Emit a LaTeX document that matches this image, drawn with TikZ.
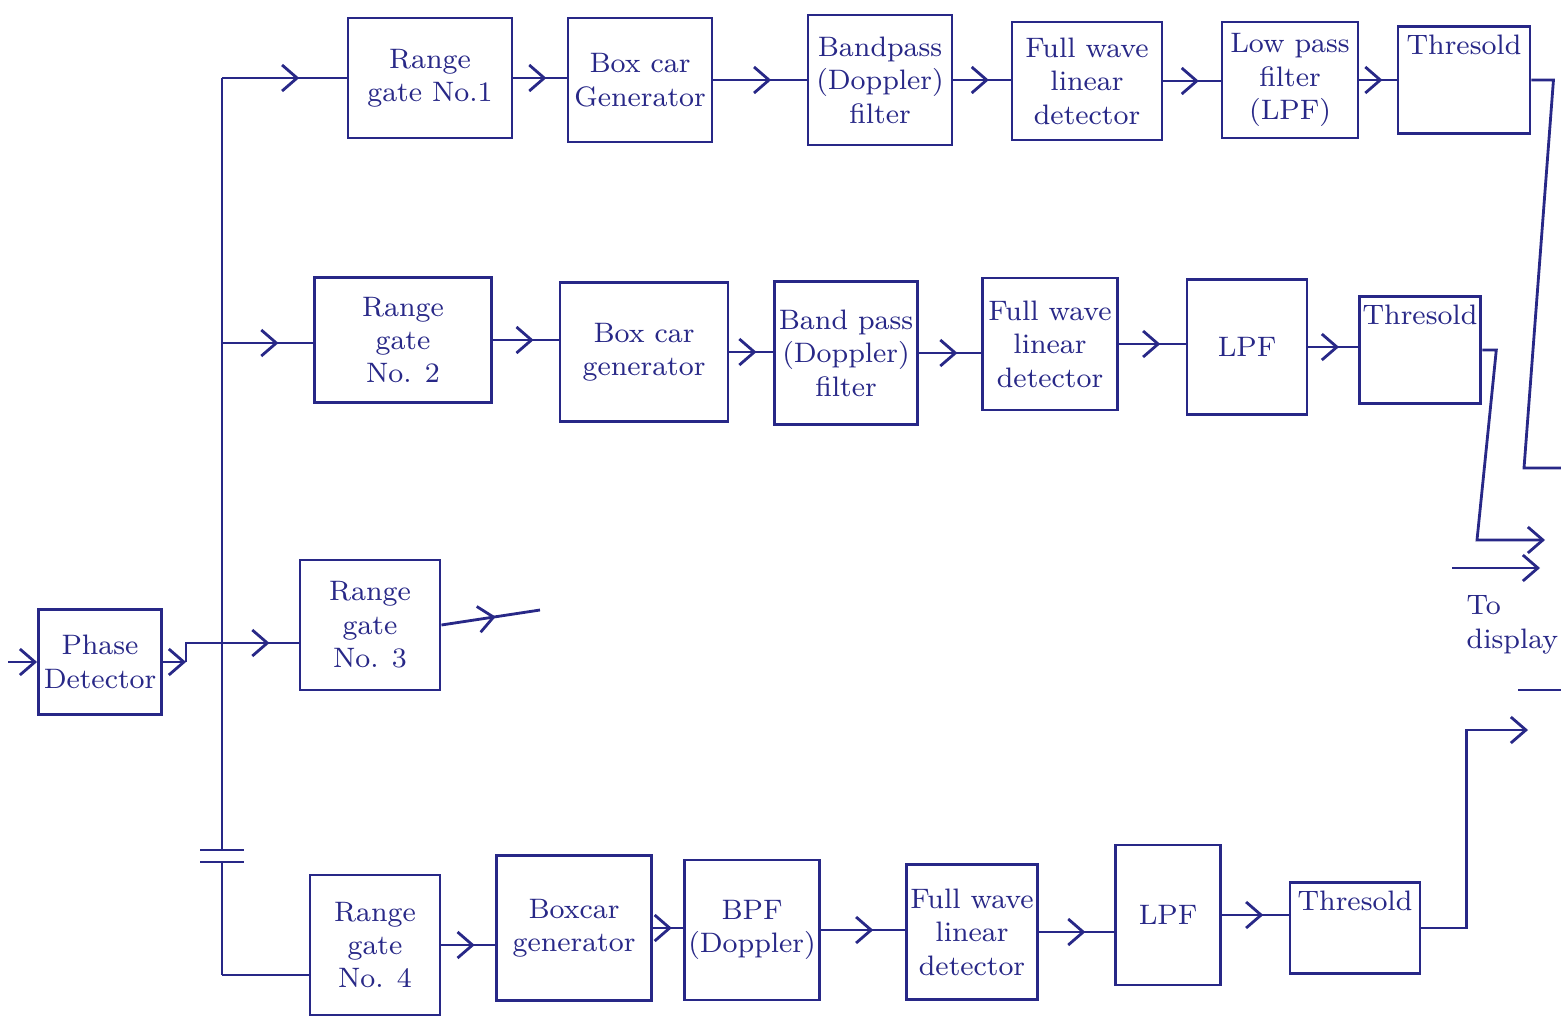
\documentclass[tikz,border=0pt]{standalone}
\usepackage{amsmath}
\usepackage{tikz}
\usetikzlibrary{arrows.meta, positioning, calc, decorations.markings}
\definecolor{ink}{RGB}{40,40,135}

\begin{document}
\begin{tikzpicture}[x=0.01cm, y=-0.01cm, >={Straight Barb[length=1.5mm, width=2.6mm]},
    blk/.style={draw=ink, thick, text=ink, font=\footnotesize, align=center, inner sep=1pt},
    wire/.style={draw=ink, thick},
    midarr/.style={draw=ink, thick, postaction={decorate},
        decoration={markings, mark=at position #1 with {\arrow{>}}}},
    midarr/.default=0.62,
    tophead/.style={text height=1.6ex, text depth=#1}]
    \useasboundingbox (0,0) rectangle (1561,1027);

    % first channel
    \node[blk, minimum width=1.64cm, minimum height=1.2cm] (rg1) at (430,78) {Range\\gate No.1};
    \node[blk, minimum width=1.44cm, minimum height=1.24cm] (bc1) at (640,80) {Box car\\Generator};
    \node[blk, minimum width=1.44cm, minimum height=1.3cm] (bp1) at (880,80) {Bandpass\\(Doppler)\\filter};
    \node[blk, minimum width=1.5cm, minimum height=1.18cm] (fw1) at (1087,81) {Full wave\\linear\\detector};
    \node[blk, minimum width=1.36cm, minimum height=1.16cm] (lp1) at (1290,80) {Low pass\\filter\\(LPF)};
    \node[blk, minimum width=1.32cm, tophead=0.75cm] (th1) at (1464,80) {Thresold};

    % second channel
    \node[blk, minimum width=1.77cm, minimum height=1.25cm] (rg2) at (403,340) {Range\\gate\\No. 2};
    \node[blk, minimum width=1.68cm, minimum height=1.39cm] (bc2) at (644,352) {Box car\\generator};
    \node[blk, minimum width=1.43cm, minimum height=1.43cm] (bp2) at (846,353) {Band pass\\(Doppler)\\filter};
    \node[blk, minimum width=1.35cm, minimum height=1.32cm] (fw2) at (1050,344) {Full wave\\linear\\detector};
    \node[blk, minimum width=1.2cm, minimum height=1.35cm] (lp2) at (1247,347) {LPF};
    \node[blk, minimum width=1.16cm, tophead=0.75cm] (th2) at (1420,350) {Thresold};

    % third channel and phase detector
    \node[blk, minimum width=1.23cm, minimum height=1.05cm] (pd) at (100,662) {Phase\\Detector};
    \node[blk, minimum width=1.4cm, minimum height=1.3cm] (rg3) at (370,625) {Range\\gate\\No. 3};

    % fourth channel
    \node[blk, minimum width=1.3cm, minimum height=1.4cm] (rg4) at (375,945) {Range\\gate\\No. 4};
    \node[blk, minimum width=1.55cm, minimum height=1.45cm] (bc4) at (574,928) {Boxcar\\generator};
    \node[blk, minimum width=1.32cm, minimum height=1.4cm] (bpf4) at (752,930) {BPF\\(Doppler)};
    \node[blk, minimum width=1.15cm, minimum height=1.35cm] (fw4) at (972,932) {Full wave\\linear\\detector};
    \node[blk, minimum width=1.05cm, minimum height=1.4cm] (lp4) at (1168,915) {LPF};
    \node[blk, minimum width=1.3cm, tophead=0.6cm] (th4) at (1355,928) {Thresold};

    % bus from the phase detector
    \coordinate (bt) at (222,78);
    \coordinate (j2) at (222,343);
    \coordinate (j3) at (222,643);
    \coordinate (k1) at (222,850);
    \coordinate (k2) at (222,862);
    \coordinate (bb) at (222,975);
    \draw[wire] (bt) -- (k1) (k2) -- (bb);
    \draw[wire] (k1) ++(-22,0) -- ++(44,0);
    \draw[wire] (k2) ++(-22,0) -- ++(44,0);

    \coordinate (pin) at (8,662);
    \coordinate (pj) at (186,662);
    \draw[wire, ->] (pin) -- (pd.west);
    \draw[wire, ->] (pd.east) -- (pj);
    \draw[wire] (pj) |- (j3);

    \draw[midarr] (bt) -- (rg1.west);
    \draw[midarr] (j2) -- (j2 -| rg2.west);
    \draw[midarr] (j3) -- (j3 -| rg3.west);
    \draw[wire] (bb) -- (bb -| rg4.west);

    % chains
    \foreach \a/\b in {rg1/bc1, bc1/bp1, bp1/fw1, fw1/lp1, lp1/th1,
                       rg2/bc2, bc2/bp2, bp2/fw2, fw2/lp2, lp2/th2,
                       rg4/bc4, bc4/bpf4, bpf4/fw4, fw4/lp4, lp4/th4}
        \draw[midarr] (\a.east) -- (\a.east -| \b.west);

    \coordinate (r3o) at (540,610);
    \draw[midarr=0.55] (rg3.east) -- (r3o);

    % to display
    \coordinate (o1) at (1561,468);
    \draw[wire] (th1.east) -- ++(22,0) -- (1524,468) -- (o1);
    \coordinate (d2) at (1545,540);
    \draw[wire, ->] (th2.east) -- ++(14,0) -- (1477,540) -- (d2);
    \coordinate (d3a) at (1452,568);
    \coordinate (d3b) at (1540,568);
    \draw[wire, ->] (d3a) -- (d3b);
    \node[text=ink, font=\footnotesize, align=left, anchor=north west, inner sep=0pt] (disp) at (1466,595) {To\\display};
    \coordinate (d4a) at (1518,690);
    \coordinate (d4b) at (1561,690);
    \draw[wire] (d4a) -- (d4b);
    \coordinate (d5) at (1528,730);
    \draw[wire, ->] (th4.east) -- ++(45,0) |- (d5);
\end{tikzpicture}
\end{document}
